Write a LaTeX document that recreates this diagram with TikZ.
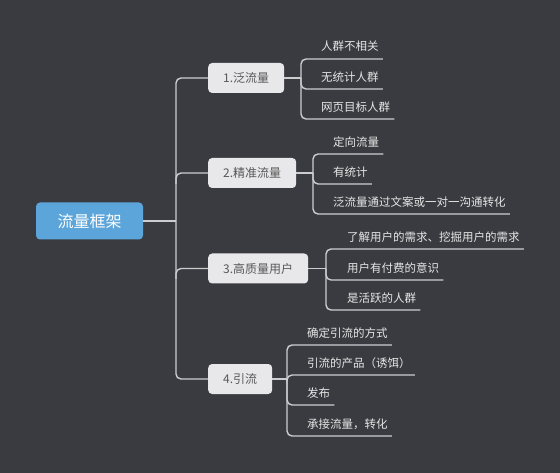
\documentclass[tikz,border=0pt]{standalone}
\usepackage{fontspec}
\setmainfont{Noto Sans CJK SC}
\usetikzlibrary{calc}
\definecolor{bg}{HTML}{3A3B40}
\definecolor{linec}{HTML}{CDCDCF}
\definecolor{boxc}{HTML}{E8E8EA}
\definecolor{boxtext}{HTML}{585858}
\definecolor{rootc}{HTML}{5CA5DA}
\definecolor{leaftext}{HTML}{E6E6E6}
\begin{document}
\begin{tikzpicture}[x=1pt,y=-1pt,
  link/.style={draw=linec, line width=1.4pt, rounded corners=5pt},
  rootbox/.style={fill=rootc, text=white, rounded corners=4pt, minimum height=37pt, minimum width=107pt, inner xsep=0pt, font=\fontsize{16}{18}\selectfont},
  topic/.style={fill=boxc, text=boxtext, rounded corners=4pt, minimum height=30pt, inner xsep=15pt, font=\fontsize{12}{14}\selectfont, anchor=west},
  leaf/.style={text=leaftext, font=\fontsize{11.5}{13}\selectfont, anchor=west, inner xsep=4pt, inner ysep=0pt}]
\fill[bg] (0,0) rectangle (560,473);
\useasboundingbox (0,0) rectangle (560,473);

% root and topics
\node[rootbox] (root) at (89.5,221) {流量框架};
\node[topic] (t1) at (208,78) {1.泛流量};
\node[topic] (t2) at (208,173) {2.精准流量};
\node[topic] (t3) at (208,268.5) {3.高质量用户};
\node[topic] (t4) at (208,379) {4.引流};

% trunk
\coordinate (j) at (176,221);
\coordinate (j2) at (176,184);
\coordinate (j3) at (176,279);
\draw[link] (t1.west) -| (j) |- (t4.west);
\draw[link] (root.east) -- (j);
\draw[link] (j2) |- (t2.west);
\draw[link] (j3) |- (t3.west);

% group 1
\coordinate (b1) at (301,78);
\draw[link] (t1.east) -- (b1);
\node[leaf] (l11) at (317,46) {人群不相关};
\node[leaf] (l12) at (317,77) {无统计人群};
\node[leaf] (l13) at (317,107) {网页目标人群};
\draw[link] (b1) |- ($(l11.east)+(0,13)$);
\draw[link] (b1) |- ($(l12.east)+(0,12)$);
\draw[link] (b1) |- ($(l13.east)+(0,12)$);

% group 2
\coordinate (b2) at (313,173);
\draw[link] (t2.east) -- (b2);
\node[leaf] (l21) at (329,142) {定向流量};
\node[leaf] (l22) at (329,172) {有统计};
\node[leaf] (l23) at (329,202) {泛流量通过文案或一对一沟通转化};
\draw[link] (b2) |- ($(l21.east)+(0,12)$);
\draw[link] (b2) |- ($(l22.east)+(0,12)$);
\draw[link] (b2) |- ($(l23.east)+(0,12)$);

% group 3
\coordinate (b3) at (326,268.5);
\draw[link] (t3.east) -- (b3);
\node[leaf] (l31) at (343,237) {了解用户的需求、挖掘用户的需求};
\node[leaf] (l32) at (343,268) {用户有付费的意识};
\node[leaf] (l33) at (343,298) {是活跃的人群};
\draw[link] (b3) |- ($(l31.east)+(0,12)$);
\draw[link] (b3) |- ($(l32.east)+(0,12)$);
\draw[link] (b3) |- ($(l33.east)+(0,12)$);

% group 4
\coordinate (b4) at (287,379);
\draw[link] (t4.east) -- (b4);
\node[leaf] (l41) at (303,333) {确定引流的方式};
\node[leaf] (l42) at (303,363) {引流的产品（诱饵）};
\node[leaf] (l43) at (303,393) {发布};
\node[leaf] (l44) at (303,424) {承接流量，转化};
\draw[link] (b4) |- ($(l41.east)+(0,12)$);
\draw[link] (b4) |- ($(l42.east)+(0,12)$);
\draw[link] (b4) |- ($(l43.east)+(0,12)$);
\draw[link] (b4) |- ($(l44.east)+(0,12)$);
\end{tikzpicture}
\end{document}
